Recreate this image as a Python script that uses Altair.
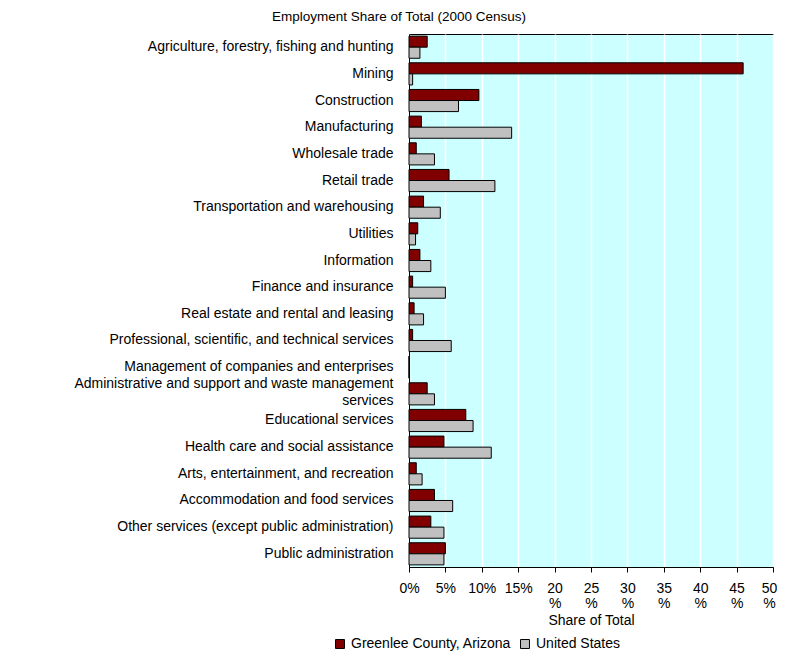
import altair as alt
import pandas as pd

categories = [
    "Agriculture, forestry, fishing and hunting",
    "Mining",
    "Construction",
    "Manufacturing",
    "Wholesale trade",
    "Retail trade",
    "Transportation and warehousing",
    "Utilities",
    "Information",
    "Finance and insurance",
    "Real estate and rental and leasing",
    "Professional, scientific, and technical services",
    "Management of companies and enterprises",
    "Administrative and support and waste management services",
    "Educational services",
    "Health care and social assistance",
    "Arts, entertainment, and recreation",
    "Accommodation and food services",
    "Other services (except public administration)",
    "Public administration",
]
greenlee = [2.5, 45.9, 9.6, 1.7, 1.0, 5.5, 2.0, 1.2, 1.5, 0.5, 0.7, 0.5, 0.0, 2.5, 7.8, 4.8, 1.0, 3.5, 3.0, 5.0]
united_states = [1.5, 0.5, 6.8, 14.1, 3.5, 11.8, 4.3, 0.9, 3.0, 5.0, 2.0, 5.8, 0.0, 3.5, 8.8, 11.3, 1.8, 6.0, 4.8, 4.8]
series = ["Greenlee County, Arizona", "United States"]
colors = ["#800000", "#C0C0C0"]
x_ticks = [0, 5, 10, 15, 20, 25, 30, 35, 40, 45, 50]
chart_title = "Employment Share of Total (2000 Census)"

rows = []
for i, c in enumerate(categories):
    rows.append({"Industry": c, "Series": series[0], "Share": greenlee[i]})
    rows.append({"Industry": c, "Series": series[1], "Share": united_states[i]})
df = pd.DataFrame(rows)

FONT = "Liberation Sans"
FS = 14
ADMIN = "Administrative and support and waste management services"

y_label_expr = (
    f"datum.value == '{ADMIN}' ? "
    "['Administrative and support and waste management', 'services'] : datum.value"
)
x_label_expr = "datum.value < 20 ? datum.value + '%' : [datum.value + '', '%']"

bars = alt.Chart(df).mark_bar(stroke="black", strokeWidth=1).encode(
    y=alt.Y(
        "Industry:N",
        sort=categories,
        scale=alt.Scale(paddingInner=0.17, paddingOuter=0.08),
        axis=alt.Axis(
            title=None,
            ticks=False,
            labelPadding=16,
            labelFontSize=FS,
            labelFont=FONT,
            labelColor="black",
            labelLimit=0,
            labelLineHeight=17,
            labelOffset={"condition": {"test": f"datum.value == '{ADMIN}'", "value": -10}, "value": 0},
            domainColor="black",
            labelExpr=y_label_expr,
        ),
    ),
    x=alt.X(
        "Share:Q",
        scale=alt.Scale(domain=[0, 50], nice=False),
        axis=alt.Axis(
            values=x_ticks,
            labelExpr=x_label_expr,
            title="Share of Total",
            grid=True,
            gridColor="white",
            gridWidth=1.5,
            gridOpacity=1,
            tickColor="black",
            tickSize=5,
            domainColor="black",
            labelFontSize=FS,
            labelFont=FONT,
            labelColor="black",
            labelLineHeight=15,
            labelPadding=9,
            labelFlush=False,
            labelOffset={"condition": {"test": "datum.value == 50", "value": -4}, "value": 0},
            titleFont=FONT,
            titleFontSize=FS,
            titleFontWeight="normal",
            titleColor="black",
            titleY=53,
            titleBaseline="middle",
        ),
    ),
    yOffset=alt.YOffset("Series:N", sort=series),
    color=alt.Color(
        "Series:N",
        sort=series,
        scale=alt.Scale(domain=series, range=colors),
        legend=alt.Legend(
            title=None,
            orient="none",
            direction="horizontal",
            legendX=-76,
            legendY=603,
            symbolType="square",
            symbolSize=80,
            symbolStrokeColor="black",
            symbolStrokeWidth=1,
            symbolOpacity=1,
            labelFont=FONT,
            labelFontSize=FS,
            labelColor="black",
            labelLimit=0,
            columnPadding=6,
            labelOffset=4,
        ),
    ),
)

title_layer = alt.Chart(pd.DataFrame({"t": [chart_title]})).mark_text(
    font=FONT, fontSize=13.5, color="black", align="center", baseline="middle"
).encode(
    text="t:N",
    x=alt.value(-10),
    y=alt.value(-17),
)

chart = alt.layer(bars, title_layer).properties(
    width=364,
    height=533,
    autosize=alt.AutoSizeParams(type="none"),
    padding={"left": 401, "top": 26, "right": 4, "bottom": 84},
).configure_view(
    fill="#CCFFFF", stroke="black", strokeWidth=1
)

chart.save("out.html", embed_options={"renderer": "svg", "actions": False})
